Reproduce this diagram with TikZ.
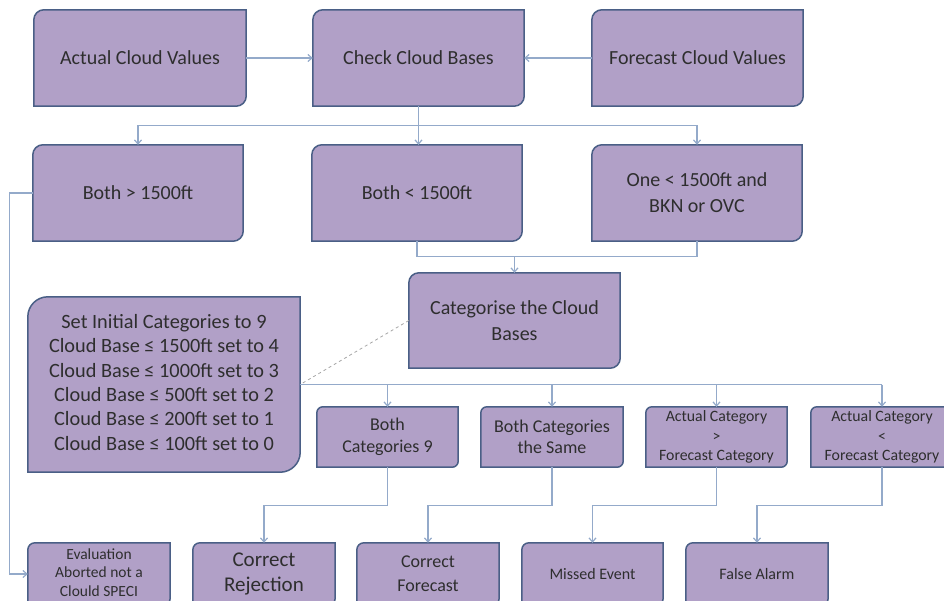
\documentclass[tikz,border=0pt]{standalone}
\usepackage{fontspec}
\setmainfont{Carlito}
\usetikzlibrary{arrows.meta,calc,backgrounds}
\definecolor{boxfill}{HTML}{B1A0C7}
\definecolor{boxline}{HTML}{4A5F86}
\definecolor{connc}{HTML}{94AACA}
\definecolor{txt}{HTML}{2E2E2E}
\begin{document}
\begin{tikzpicture}[x=1pt,y=-1pt,
  bx/.style 2 args={minimum width=#1pt,minimum height=#2pt,inner sep=0pt,align=center,text=txt},
  fbig/.style={font=\fontsize{20}{26}\selectfont},
  fcat/.style={font=\fontsize{18}{21.5}\selectfont},
  fsmall/.style={font=\fontsize{15.8}{19.5}\selectfont},
  ln/.style={draw=connc,line width=1.2pt},
  arr/.style={ln,-{Straight Barb[length=4pt,width=7pt]}},
  shp/.style={draw=boxline,fill=boxfill,line width=1.5pt}]
\clip (0,0) rectangle (944,601);
% top row
\node[bx={212}{96},fbig] (act) at (140,58) {Actual Cloud Values};
\node[bx={211}{96},fbig] (chk) at (418.5,58) {Check Cloud Bases};
\node[bx={211}{96},fbig] (fc) at (697.5,58) {Forecast Cloud Values};
% second row
\node[bx={210}{96},fbig] (gt) at (138,193) {Both > 1500ft};
\node[bx={210}{96},fbig] (lt) at (417,193) {Both < 1500ft};
\node[bx={210}{96},fbig] (one) at (697,193) {One < 1500ft and\\BKN or OVC};
% categorise
\node[bx={211}{95},fbig] (cat) at (514.5,320.5) {Categorise the Cloud\\Bases};
\node[bx={272}{175},font=\fontsize{20.3}{24.4}\selectfont] (set) at (164,384.5)
  {\raisebox{19pt}{\begin{tabular}{@{}c@{}}Set Initial Categories to 9\\
   Cloud Base ≤ 1500ft set to 4\\ Cloud Base ≤ 1000ft set to 3\\
   Cloud Base ≤ 500ft set to 2\\ Cloud Base ≤ 200ft set to 1\\
   Cloud Base ≤ 100ft set to 0\end{tabular}}};
% category boxes
\node[bx={141}{60},fcat] (c9) at (387.5,437) {Both\\Categories 9};
\node[bx={142}{60},fcat] (same) at (552,437) {Both Categories\\the Same};
\node[bx={141}{60},fsmall] (agt) at (716.5,437) {Actual Category\\>\\Forecast Category};
\node[bx={142}{60},fsmall] (alt) at (882,437) {Actual Category\\<\\Forecast Category};
% results
\node[bx={142}{62},font=\fontsize{15.5}{18.5}\selectfont] (eval) at (99,574)
  {\raisebox{3pt}{\begin{tabular}{@{}c@{}}Evaluation\\Aborted not a\\Clould SPECI\end{tabular}}};
\node[bx={142}{62},font=\fontsize{21}{25}\selectfont] (cr) at (264,574) {Correct\\Rejection};
\node[bx={142}{62},font=\fontsize{18}{24}\selectfont] (cf) at (428,574) {Correct\\Forecast};
\node[bx={141}{62},font=\fontsize{16}{20}\selectfont] (me) at (592.5,574) {Missed Event};
\node[bx={142}{62},font=\fontsize{16}{20}\selectfont] (fa) at (757,574) {False Alarm};
% shapes
\begin{scope}[on background layer]
\foreach \n/\r in {act/10,chk/10,fc/10,gt/10,lt/10,one/10,cat/10,set/20,c9/6,same/6,agt/6,alt/6,eval/7,cr/7,cf/7,me/7,fa/7}{
  \draw[shp,rounded corners=\r pt] (\n.west) -- (\n.north west) -- (\n.north)
    [sharp corners] -- (\n.north east) -- (\n.east)
    [rounded corners=\r pt] -- (\n.south east) -- (\n.south)
    [sharp corners] -- (\n.south west) -- cycle;
}
\end{scope}
% connectors
\draw[arr] (act.east) -- (chk.west);
\draw[arr] (fc.west) -- (chk.east);
\draw[ln] (chk.south) -- ++(0,19) coordinate (j1);
\draw[arr] (j1) -| (gt.north);
\draw[arr] (j1) -| (one.north);
\draw[arr] (j1) -- (j1 |- lt.north);
\draw[ln] (lt.south) -- ++(0,15) coordinate (j2) -| (one.south);
\draw[arr] (j2 -| cat.north) -- (cat.north);
\draw[gray!70,line width=0.8pt,dashed] (cat.west) -- (set.east);
\draw[ln] (set.east) -- (set.east -| alt.north);
\foreach \n in {c9,same,agt,alt}{\draw[arr] (set.east -| \n.north) -- (\n.north);}
\draw[arr] (c9.south) -- ++(0,38) -| (cr.north);
\draw[arr] (same.south) -- ++(0,38) -| (cf.north);
\draw[arr] (agt.south) -- ++(0,38) -| (me.north);
\draw[arr] (alt.south) -- ++(0,38) -| (fa.north);
\draw[arr] (gt.west) -- ++(-23,0) |- (eval.west);
\end{tikzpicture}
\end{document}
